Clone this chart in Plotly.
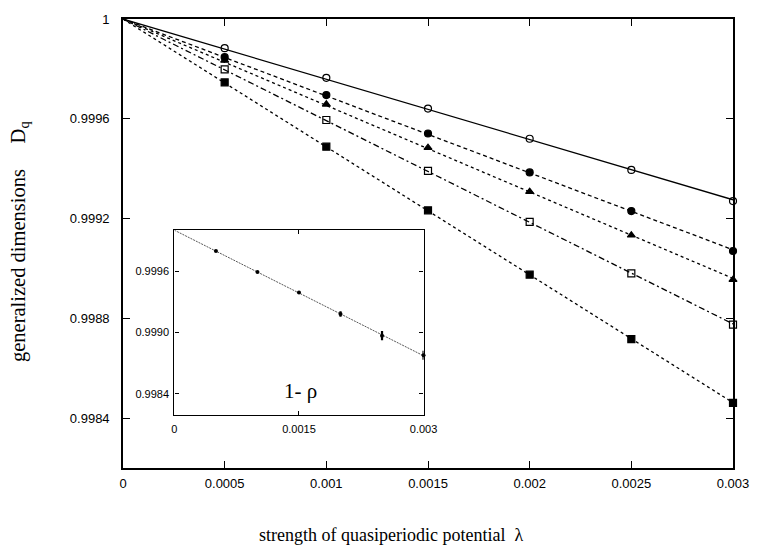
import numpy as np
import plotly.graph_objects as go

# ---- data ----
lam = [0.0005, 0.001, 0.0015, 0.002, 0.0025, 0.003]
d_open_circle = [0.999883, 0.999764, 0.999641, 0.999520, 0.999395, 0.999270]
d_filled_circle = [0.999847, 0.999695, 0.999541, 0.999385, 0.999230, 0.999070]
d_triangle = [0.999834, 0.999658, 0.999484, 0.999308, 0.999133, 0.998955]
d_open_square = [0.999798, 0.999595, 0.999391, 0.999187, 0.998980, 0.998775]
d_filled_square = [0.999746, 0.999488, 0.999233, 0.998975, 0.998717, 0.998461]

inset_x = [0.0005, 0.001, 0.0015, 0.002, 0.0025, 0.003]
inset_y = [0.999796, 0.999590, 0.999390, 0.999181, 0.998968, 0.998777]
inset_err = [0.000004, 0.000005, 0.000012, 0.000027, 0.000045, 0.000044]

x_ticks = [0, 0.0005, 0.001, 0.0015, 0.002, 0.0025, 0.003]
x_ticktext = ["0", "0.0005", "0.001", "0.0015", "0.002", "0.0025", "0.003"]
y_ticks = [0.9984, 0.9988, 0.9992, 0.9996, 1.0]
y_ticktext = ["0.9984", "0.9988", "0.9992", "0.9996", "1"]
ix_ticks = [0, 0.0015, 0.003]
ix_ticktext = ["0", "0.0015", "0.003"]
iy_ticks = [0.9984, 0.9990, 0.9996]
iy_ticktext = ["0.9984", "0.9990", "0.9996"]

SERIF = "Liberation Serif, Times New Roman, serif"
SANS = "Liberation Sans, Arial, sans-serif"

series = [
    (d_open_circle, "circle-open", "solid"),
    (d_filled_circle, "circle", "4px,3px"),
    (d_triangle, "triangle-up", "3px,3px"),
    (d_open_square, "square-open", "6px,3px,2px,3px"),
    (d_filled_square, "square", "3px,3px"),
]

fig = go.Figure()
x_arr = np.array(lam)
x_line = np.array([0.0, max(lam)])
for ys, sym, dash in series:
    dy = np.array(ys) - 1.0
    slope = float(np.sum(x_arr * dy) / np.sum(x_arr ** 2))
    fig.add_trace(go.Scatter(x=x_line, y=1.0 + slope * x_line, mode="lines",
                             line=dict(color="black", width=1.3, dash=dash),
                             showlegend=False, hoverinfo="skip"))
    fig.add_trace(go.Scatter(x=lam, y=ys, mode="markers",
                             marker=dict(symbol=sym, size=7, color="black",
                                         line=dict(color="black", width=1.2)),
                             showlegend=False, cliponaxis=False))

# inset
ix = np.array(inset_x)
idy = np.array(inset_y) - 1.0
islope = float(np.sum(ix * idy) / np.sum(ix ** 2))
fig.add_trace(go.Scatter(x=x_line, y=1.0 + islope * x_line, mode="lines",
                         line=dict(color="#444444", width=0.9, dash="2px,1px"),
                         xaxis="x2", yaxis="y2", showlegend=False, hoverinfo="skip"))
fig.add_trace(go.Scatter(x=inset_x, y=inset_y, mode="markers",
                         marker=dict(symbol="circle", size=4, color="black"),
                         error_y=dict(type="data", array=inset_err, color="black",
                                      thickness=2.2, width=0),
                         xaxis="x2", yaxis="y2", showlegend=False, cliponaxis=False))

axis_common = dict(showgrid=False, zeroline=False, showline=True, linecolor="black",
                   mirror="ticks", ticks="inside", tickcolor="black")

fig.update_layout(
    width=761, height=550,
    margin=dict(l=123, r=18, t=13, b=82),
    paper_bgcolor="white", plot_bgcolor="white",
    xaxis=dict(range=[0, 0.003], tickvals=x_ticks, ticktext=x_ticktext,
               ticklen=7, linewidth=1.6, tickwidth=1.4,
               tickfont=dict(family=SANS, size=13, color="black"),
               ticklabelstandoff=3, **axis_common),
    yaxis=dict(range=[0.9982, 1.0], tickvals=y_ticks, ticktext=y_ticktext,
               ticklen=7, linewidth=1.6, tickwidth=1.4,
               tickfont=dict(family=SANS, size=13, color="black"),
               ticklabelstandoff=9, **axis_common),
    xaxis2=dict(domain=[0.0843, 0.4927], anchor="y2", range=[0, 0.003],
                tickvals=ix_ticks, ticktext=ix_ticktext, ticklen=4,
                linewidth=1.3, tickwidth=1,
                tickfont=dict(family=SANS, size=11, color="black"),
                ticklabelstandoff=3, **axis_common),
    yaxis2=dict(domain=[0.1175, 0.5296], anchor="x2", range=[0.99819, 1.0],
                tickvals=iy_ticks, ticktext=iy_ticktext, ticklen=4,
                linewidth=1.3, tickwidth=1,
                tickfont=dict(family=SANS, size=11, color="black"),
                ticklabelstandoff=2, **axis_common),
    annotations=[
        dict(text="strength of quasiperiodic potential\u00a0\u00a0\u03bb",
             xref="paper", yref="paper", x=0.44, y=-0.150,
             xanchor="center", yanchor="middle", showarrow=False,
             font=dict(family=SERIF, size=18, color="black")),
        dict(text="generalized dimensions\u00a0\u00a0\u00a0\u00a0\u00a0D<sub>q</sub>",
             xref="paper", yref="paper", x=-0.17, y=0.504,
             xanchor="center", yanchor="middle", showarrow=False, textangle=-90,
             font=dict(family=SERIF, size=20.5, color="black")),
        dict(text="1- \u03c1", xref="paper", yref="paper",
             x=(303 - 123) / 620.3, y=(468.5 - 390) / 455.4,
             xanchor="center", yanchor="middle", showarrow=False,
             font=dict(family=SERIF, size=21, color="black")),
    ],
)

fig.write_html("out.html", config={"displayModeBar": False},
               post_script="document.body.style.margin='0';document.body.style.overflow='hidden';")
